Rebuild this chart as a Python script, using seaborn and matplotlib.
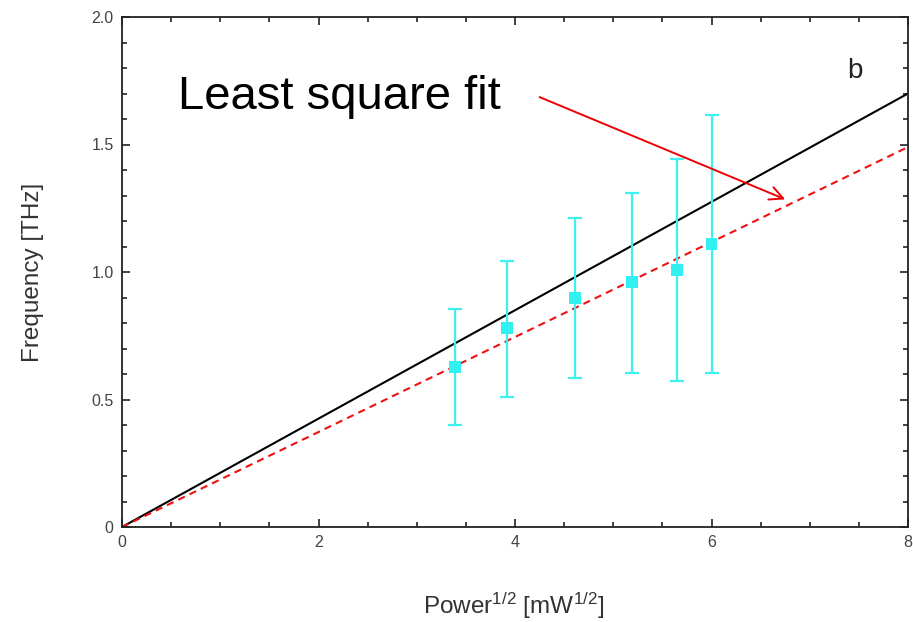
import matplotlib
matplotlib.use("Agg")
import matplotlib.pyplot as plt
import seaborn as sns
import pandas as pd
from matplotlib.ticker import MultipleLocator, FuncFormatter

# Data
power_sqrt = [3.39, 3.92, 4.61, 5.19, 5.65, 6.00]
frequency = [0.627, 0.780, 0.898, 0.960, 1.008, 1.110]
err_upper = [0.855, 1.043, 1.210, 1.310, 1.443, 1.616]
err_lower = [0.400, 0.510, 0.586, 0.604, 0.573, 0.604]

fit_x = [0.0, 8.0]
fit_black = [0.0, 1.70]
fit_red = [0.0, 1.49]

x_ticks = [0, 2, 4, 6, 8]
y_ticks = [0, 0.5, 1.0, 1.5, 2.0]

sns.set_style("ticks")
plt.rcParams['font.family'] = ['Liberation Sans', 'DejaVu Sans']
plt.rcParams['mathtext.fontset'] = 'custom'
plt.rcParams['mathtext.rm'] = 'Liberation Sans'
plt.rcParams['mathtext.it'] = 'Liberation Sans'

fig = plt.figure(figsize=(9.13, 6.22), dpi=100)
ax = fig.add_axes([122/913, 1-527/622, (908-122)/913, (527-17)/622])

df_pts = pd.DataFrame({"x": power_sqrt, "y": frequency})
df_fit = pd.DataFrame({"x": fit_x, "black": fit_black, "red": fit_red})

sns.lineplot(data=df_fit, x="x", y="black", ax=ax, color="black", lw=1.5)
sns.lineplot(data=df_fit, x="x", y="red", ax=ax, color="#ee1111", lw=1.5,
             dashes=False, linestyle=(0, (3.5, 2.5)))

yerr = [[f - l for f, l in zip(frequency, err_lower)],
        [u - f for f, u in zip(frequency, err_upper)]]
ax.errorbar(power_sqrt, frequency, yerr=yerr, fmt="none", ecolor="#40f0f0",
            elinewidth=1.6, capsize=4.8, capthick=1.6, zorder=3)
sns.scatterplot(data=df_pts, x="x", y="y", ax=ax, marker="s", s=68,
                color="#30f0f0", edgecolor="none", zorder=4)

ax.set_xlim(0, 8)
ax.set_ylim(0, 2.0)
ax.set_xticks(x_ticks)
ax.set_yticks(y_ticks)
ax.xaxis.set_minor_locator(MultipleLocator(0.5))
ax.yaxis.set_minor_locator(MultipleLocator(0.1))

def fmt_y(v, pos):
    return "0" if abs(v) < 1e-9 else f"{v:.1f}"

def fmt_x(v, pos):
    return f"{v:.0f}"

ax.yaxis.set_major_formatter(FuncFormatter(fmt_y))
ax.xaxis.set_major_formatter(FuncFormatter(fmt_x))

ax.tick_params(which="both", direction="in", top=True, right=True,
               colors="#222222", labelcolor="#444444", labelsize=11.5, width=1.2)
ax.tick_params(which="major", length=6)
ax.tick_params(which="minor", length=3.5)
ax.tick_params(axis="x", which="major", pad=6)
ax.tick_params(axis="y", which="major", pad=6)
for s in ax.spines.values():
    s.set_linewidth(1.3)
    s.set_color("#222222")

ax.set_xlabel("Power$^{1/2}$ [mW$^{1/2}$]", fontsize=17.5, color="#333333")
ax.set_ylabel("Frequency [THz]", fontsize=17.5, color="#333333")
ax.xaxis.set_label_coords(0.4987, -0.125)
ax.yaxis.set_label_coords(-0.099, 0.5)

ax.annotate("", xy=(6.75, 1.285), xytext=(4.25, 1.686),
            arrowprops=dict(arrowstyle="->", color="#ee0000", lw=1.4,
                            mutation_scale=24, shrinkA=0, shrinkB=0))
ax.text(0.57, 1.686, "Least square fit", fontsize=34, color="black",
        va="center", ha="left")
ax.text(7.46, 1.79, "b", fontsize=20, color="#222222", ha="center", va="center")

fig.savefig("out.png", dpi=100)
